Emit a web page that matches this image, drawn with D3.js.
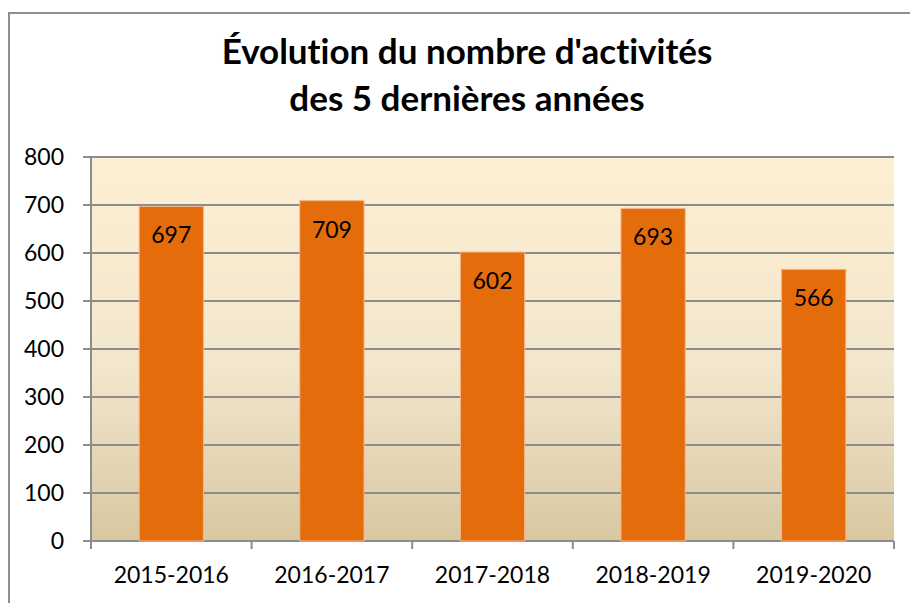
<!DOCTYPE html>
<html>
<head>
<meta charset="utf-8">
<script src="https://cdn.jsdelivr.net/npm/d3@7"></script>
<style>
  body { margin: 0; background: #fff; }
  text { font-family: Lato, "Open Sans", sans-serif; fill: #000; font-variant-ligatures: none; }
</style>
</head>
<body>
<div id="chart"></div>
<script>
// chart data
const seasons = ["2015-2016", "2016-2017", "2017-2018", "2018-2019", "2019-2020"];
const activityCounts = [697, 709, 602, 693, 566];
const yTicks = [0, 100, 200, 300, 400, 500, 600, 700, 800];
const titleLines = ["Évolution du nombre d'activités", "des 5 dernières années"];

const width = 910, height = 603;
const margin = {top: 157, right: 16, bottom: 62, left: 91};
const innerW = width - margin.left - margin.right;
const innerH = height - margin.top - margin.bottom;

const svg = d3.select("#chart").append("svg")
    .attr("width", width)
    .attr("height", height);

// frame of the chart object (top and left edges visible)
svg.append("path")
    .attr("d", "M9," + height + "V13H" + width)
    .attr("fill", "none")
    .attr("stroke", "#8f8f8f")
    .attr("stroke-width", 2);

// title
svg.append("text")
    .attr("text-anchor", "middle")
    .attr("font-weight", "bold")
    .attr("font-size", 35)
    .selectAll("tspan")
    .data(titleLines)
    .join("tspan")
    .attr("x", 467)
    .attr("y", (d, i) => 64 + i * 47)
    .text(d => d);

const defs = svg.append("defs");
const grad = defs.append("linearGradient")
    .attr("id", "bgGrad")
    .attr("x1", 0).attr("y1", 0).attr("x2", 0).attr("y2", 1);
grad.append("stop").attr("offset", "0%").attr("stop-color", "#fdefd3");
grad.append("stop").attr("offset", "55%").attr("stop-color", "#f2e6cc");
grad.append("stop").attr("offset", "100%").attr("stop-color", "#d8c7a1");

const g = svg.append("g")
    .attr("transform", "translate(" + margin.left + "," + margin.top + ")");

const x = d3.scaleBand()
    .domain(seasons)
    .range([0, innerW])
    .paddingInner(0.6)
    .paddingOuter(0.3);

const y = d3.scaleLinear()
    .domain([0, 800])
    .range([innerH, 0]);

// plot area background
g.append("rect")
    .attr("width", innerW)
    .attr("height", innerH)
    .attr("fill", "url(#bgGrad)");

// gridlines with the small tick that sticks out on the left
g.selectAll(".grid")
    .data(yTicks)
    .join("line")
    .attr("class", "grid")
    .attr("x1", -8)
    .attr("x2", innerW)
    .attr("y1", d => y(d))
    .attr("y2", d => y(d))
    .attr("stroke", "#8c8c8c")
    .attr("stroke-width", 2);

// y axis line
g.append("line")
    .attr("x1", 0).attr("x2", 0)
    .attr("y1", 0).attr("y2", innerH)
    .attr("stroke", "#8c8c8c")
    .attr("stroke-width", 2);

// y labels
g.selectAll(".ylab")
    .data(yTicks)
    .join("text")
    .attr("class", "ylab")
    .attr("x", -27)
    .attr("y", d => y(d))
    .attr("dy", "0.36em")
    .attr("text-anchor", "end")
    .attr("font-size", 23)
    .text(d => d);

// x axis ticks at category boundaries
const boundaries = d3.range(seasons.length + 1).map(i => i * innerW / seasons.length);
g.selectAll(".xtick")
    .data(boundaries)
    .join("line")
    .attr("class", "xtick")
    .attr("x1", d => d).attr("x2", d => d)
    .attr("y1", innerH).attr("y2", innerH + 8)
    .attr("stroke", "#8c8c8c")
    .attr("stroke-width", 2);

// bars
g.selectAll(".bar")
    .data(activityCounts)
    .join("rect")
    .attr("class", "bar")
    .attr("x", (d, i) => x(seasons[i]))
    .attr("y", d => y(d))
    .attr("width", x.bandwidth())
    .attr("height", d => innerH - y(d))
    .attr("fill", "#e46c0a")
    .attr("stroke", "#f5b78a")
    .attr("stroke-width", 1);

// value labels inside the bars
g.selectAll(".vlab")
    .data(activityCounts)
    .join("text")
    .attr("class", "vlab")
    .attr("x", (d, i) => x(seasons[i]) + x.bandwidth() / 2)
    .attr("y", d => y(d) + 37)
    .attr("text-anchor", "middle")
    .attr("font-size", 23)
    .text(d => d);

// category labels
g.selectAll(".xlab")
    .data(seasons)
    .join("text")
    .attr("class", "xlab")
    .attr("x", d => x(d) + x.bandwidth() / 2)
    .attr("y", innerH + 42)
    .attr("text-anchor", "middle")
    .attr("font-size", 23)
    .text(d => d);
</script>
</body>
</html>
